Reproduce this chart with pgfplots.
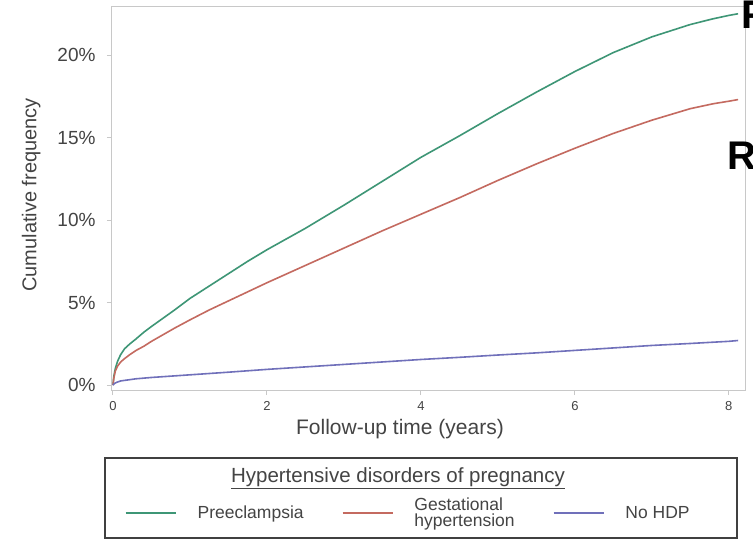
\documentclass[border=0pt]{standalone}
\usepackage{fontspec}
\setmainfont{Liberation Sans}
\usepackage{pgfplots}
\usepackage{pgfplotstable}
\pgfplotsset{compat=1.18}

\definecolor{pecol}{RGB}{62,150,118}
\definecolor{ghcol}{RGB}{196,106,96}
\definecolor{nhcol}{RGB}{112,112,186}
\definecolor{txtcol}{RGB}{68,68,68}
\definecolor{framecol}{RGB}{200,200,200}

% cumulative frequency (%) against follow-up time (years)
\pgfplotstableread{
t     cf
0     0
0.01  0.5
0.03  1.0
0.06  1.45
0.1   1.85
0.15  2.2
0.22  2.5
0.3   2.8
0.4   3.2
0.5   3.55
0.65  4.05
0.8   4.55
1.0   5.25
1.25  6.0
1.5   6.75
1.75  7.5
2.0   8.2
2.5   9.5
3.0   10.9
3.5   12.35
4.0   13.8
4.5   15.1
5.0   16.45
5.5   17.75
6.0   19.0
6.5   20.15
7.0   21.1
7.5   21.85
7.8   22.2
8.0   22.4
8.12  22.5
}\preeclampsia

\pgfplotstableread{
t     cf
0     0
0.01  0.4
0.03  0.85
0.06  1.15
0.1   1.4
0.15  1.6
0.22  1.85
0.3   2.1
0.4   2.35
0.5   2.65
0.65  3.05
0.8   3.45
1.0   3.95
1.25  4.55
1.5   5.1
1.75  5.65
2.0   6.2
2.5   7.25
3.0   8.3
3.5   9.35
4.0   10.35
4.5   11.35
5.0   12.4
5.5   13.4
6.0   14.35
6.5   15.25
7.0   16.05
7.5   16.75
7.8   17.05
8.0   17.2
8.12  17.3
}\gestational

\pgfplotstableread{
t     cf
0     0
0.02  0.1
0.05  0.17
0.1   0.25
0.3   0.38
0.5   0.46
1.0   0.62
1.5   0.78
2.0   0.95
2.5   1.1
3.0   1.25
3.5   1.4
4.0   1.55
4.5   1.68
5.0   1.82
5.5   1.95
6.0   2.1
6.5   2.25
7.0   2.4
7.5   2.52
8.0   2.65
8.12  2.7
}\nohdp

\begin{document}
\begin{tikzpicture}
\fill[white] (0pt,0pt) rectangle (753pt,-542pt);
\begin{axis}[
  at={(112pt,-390pt)}, anchor=south west,
  scale only axis, width=633pt, height=384pt,
  xmin=-0.013, xmax=8.21,
  ymin=-0.3, ymax=22.97,
  axis line style={framecol, line width=1pt},
  xtick={0,2,4,6,8},
  ytick={0,5,10,15,20},
  yticklabels={0\%,5\%,10\%,15\%,20\%},
  xtick pos=bottom, ytick pos=left,
  tick align=outside,
  major tick length=5pt,
  tick style={framecol, line width=1pt},
  /pgf/number format/assume math mode=true,
  xticklabel style={font=\fontsize{13}{15}\selectfont, text=txtcol, yshift=-3pt},
  yticklabel style={font=\fontsize{19}{21}\selectfont, text=txtcol, xshift=-8pt},
  xlabel={Follow-up time (years)},
  ylabel={Cumulative frequency},
  xlabel style={font=\fontsize{21}{24}\selectfont, text=txtcol,
    at={(axis description cs:0.455,-0.1016)}, anchor=center},
  ylabel style={font=\fontsize{20}{23}\selectfont, text=txtcol,
    at={(axis description cs:-0.1275,0.508)}, anchor=center},
  legend columns=3,
  legend style={
    at={(0.468,-0.32)}, anchor=center, draw=none, fill=none,
    font=\fontsize{17.5}{17}\selectfont, text=txtcol,
    /tikz/every even column/.append style={column sep=36pt},
  },
  legend cell align=left,
  legend image code/.code={\draw[#1, line width=1.8pt] (0pt,0pt) -- (50pt,0pt);},
]
\addplot[pecol, line width=1.6pt] table[x=t, y=cf] {\preeclampsia};
\addlegendentry{\hspace{19pt}Preeclampsia}
\addplot[ghcol, line width=1.6pt] table[x=t, y=cf] {\gestational};
\addlegendentry{\hspace{19pt}\shortstack[l]{Gestational\\hypertension}}
\addplot[nhcol, line width=1.6pt] table[x=t, y=cf] {\nohdp};
\addlegendentry{\hspace{19pt}No HDP}
\end{axis}

% legend frame and heading
\draw[line width=1.2pt, black!75] (105pt,-458pt) rectangle (737pt,-538pt);
\node[text=txtcol, font=\fontsize{20.5}{22}\selectfont] at (398pt,-478pt)
  {\underline{Hypertensive disorders of pregnancy}};

% neighbouring slide text cut at the edge
\node[anchor=north west, inner sep=0, font=\bfseries\fontsize{40}{40}\selectfont] at (741pt,-1pt) {F};
\node[anchor=north west, inner sep=0, font=\bfseries\fontsize{40}{40}\selectfont] at (727pt,-142pt) {R};

\pgfresetboundingbox
\useasboundingbox (0pt,0pt) rectangle (753pt,-542pt);
\end{tikzpicture}
\end{document}
